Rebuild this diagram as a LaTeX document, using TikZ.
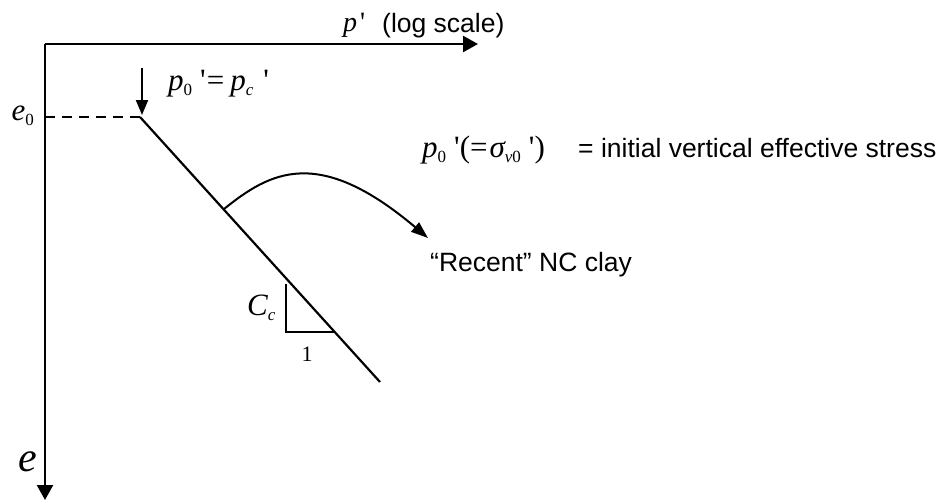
\documentclass[tikz,border=0pt]{standalone}
\usepackage{fontspec}
\setmainfont{Liberation Sans}
\newfontfamily\mathserif{Liberation Serif}
\usetikzlibrary{arrows.meta}
\newcommand{\mi}[1]{{\mathserif\itshape #1}}
\newcommand{\mrm}[1]{{\mathserif #1}}
\newcommand{\lowsub}[1]{\raisebox{-5pt}{\fontsize{17}{19}\selectfont #1}}
\begin{document}
\begin{tikzpicture}[x=1pt,y=-1pt,
  axis/.style={line width=2.4pt,-{Triangle[length=15pt,width=16pt]}},
  ln/.style={line width=2.2pt},
  lbl/.style={inner sep=0pt,font=\fontsize{26.5}{30}\selectfont},
  mlbl/.style={inner sep=0pt,font=\fontsize{31}{34}\selectfont}]
\useasboundingbox (0,0) rectangle (944,501);
\coordinate (O) at (45,44);
\coordinate (px) at (478,44);
\coordinate (ey) at (45,500);
\coordinate (E0) at (45,117);
\coordinate (P0) at (140,117);
\coordinate (Pend) at (380,382);
\coordinate (atop) at (142,68);
\coordinate (abot) at (142,115);
\coordinate (t1) at (286,284);
\coordinate (t2) at (286,332);
\coordinate (t3) at (335,332);
\coordinate (cs) at (224,209);
\coordinate (ce) at (428,238);
\draw[axis] (O) -- (px);
\draw[axis] (O) -- (ey);
\draw[ln,dash pattern=on 10pt off 7pt] (E0) -- (P0);
\draw[ln] (P0) -- (Pend);
\draw[line width=2pt,-{Triangle[length=15pt,width=12pt]}] (atop) -- (abot);
\draw[line width=2pt] (t1) -- (t2) -- (t3);
\draw[line width=2pt,-{Triangle[length=17pt,width=12pt]}] (cs) .. controls (270,172) and (318,145) .. (ce);
\node[mlbl,font=\fontsize{28}{32}\selectfont,anchor=base west] (plbl) at (343,31) {\mi{p}\hspace{3pt}\mrm{'}};
\node[lbl,anchor=base west] (loglbl) at (382,32) {(log scale)};
\node[mlbl,anchor=base west] (eqlbl) at (168,90) {\mi{p}\lowsub{\mrm{0}}\hspace{8pt}\mrm{'}\hspace{1pt}\mrm{=}\hspace{6pt}\mi{p}\lowsub{\mi{c}}\hspace{10pt}\mrm{'}};
\node[mlbl,anchor=base east] (e0lbl) at (34,120) {\mi{e}\lowsub{\mrm{0}}};
\node[mlbl,anchor=base west] (deflbl) at (422,157) {\mi{p}\lowsub{\mrm{0}}\hspace{8pt}\mrm{'(}\mrm{=}\hspace{2pt}\mi{σ}\lowsub{\mi{v}\mrm{0}}\hspace{8pt}\mrm{')}};
\node[lbl,anchor=base west] (defrhs) at (578,157) {= initial vertical effective stress};
\node[lbl,anchor=base west] (nclbl) at (430,271) {“Recent” NC clay};
\node[mlbl,anchor=base west] (cclbl) at (247,315) {\mi{C}\lowsub{\mi{c}}};
\node[inner sep=0pt,font=\fontsize{22}{26}\selectfont,anchor=base] (onelbl) at (307,361) {\mrm{1}};
\node[inner sep=0pt,font=\fontsize{42}{46}\selectfont,anchor=base west] (elbl) at (18,471) {\mi{e}};
\end{tikzpicture}
\end{document}
